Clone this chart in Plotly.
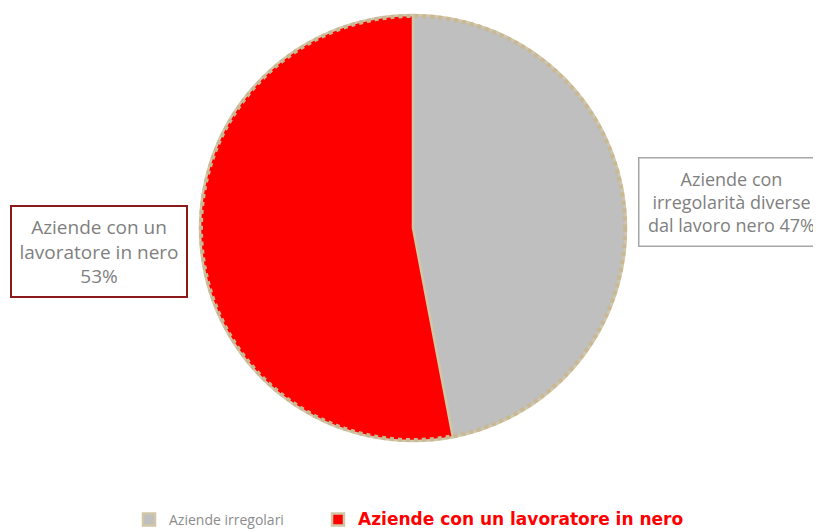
import plotly.graph_objects as go

legend_labels = ["Aziende irregolari", "Aziende con un lavoratore in nero"]
values = [47, 53]
colors = ["#bfbfbf", "#ff0000"]
box_texts = [
    "Aziende con<br>irregolarità diverse<br>dal lavoro nero 47%",
    "Aziende con un<br>lavoratore in nero<br>53%",
]

W, H = 821, 532
OFF = 8  # page body margin


def px(x):
    return (x - OFF) / W


def py(y):
    return 1 - (y - OFF) / H


FONT = "Open Sans, Lato, sans-serif"

fig = go.Figure()
fig.add_trace(go.Pie(
    labels=[
        "<span style='color:#8c8c8c'>" + legend_labels[0] + "\u00a0" * 8 + "</span>",
        "<span style='color:#ff0000;font-size:17px;font-weight:bold;font-family:DejaVu Sans'>"
        + legend_labels[1] + "</span>",
    ],
    values=values,
    sort=False,
    direction="clockwise",
    rotation=0,
    marker=dict(colors=colors, line=dict(color="#d2c6a8", width=2.5)),
    textinfo="none",
    hoverinfo="label+percent",
    domain=dict(x=[px(200), px(626)], y=[py(441), py(15)]),
))

# dashed look of the outline
fig.add_shape(type="circle", xref="paper", yref="paper",
              x0=px(201), x1=px(625), y0=py(440), y1=py(16),
              line=dict(color="#c8b893", width=4, dash="dot"))

fig.add_annotation(
    text=box_texts[1], x=px(99), y=py(251.5), xref="paper", yref="paper",
    xanchor="center", yanchor="middle", showarrow=False, align="center",
    font=dict(family=FONT, size=19, color="#7f7f7f"),
    bordercolor="#8b1a1a", borderwidth=2, borderpad=7, bgcolor="white",
    width=160,
)
fig.add_annotation(
    text=box_texts[0], x=px(638), y=py(201.5), xref="paper", yref="paper",
    xanchor="left", yanchor="middle", showarrow=False, align="center",
    font=dict(family=FONT, size=18, color="#7f7f7f"),
    bordercolor="#a6a6a6", borderwidth=1.5, borderpad=8, bgcolor="white",
    width=168,
)

fig.update_layout(
    width=W, height=H,
    margin=dict(l=0, r=0, t=0, b=0),
    paper_bgcolor="white", plot_bgcolor="white",
    showlegend=True,
    legend=dict(orientation="h", x=px(129), xanchor="left", y=py(520), yanchor="middle",
                font=dict(family=FONT, size=14, color="#8c8c8c"),
                itemclick=False),
)

fig.write_html("out.html")
